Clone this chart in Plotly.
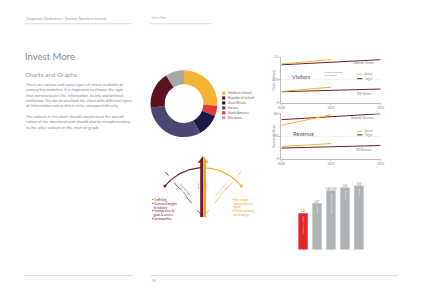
import numpy as np
import plotly.graph_objects as go

W, H = 424, 300
def px(x): return x / W
def py(y): return 1 - y / H

# ---------------- data ----------------
pie_labels = ["Northern Ireland", "North America", "Great Britain", "Europe", "Republic of Ireland", "Elsewhere"]
pie_values = [26, 5, 11, 31, 18, 9]
pie_colors = ["#F5B335", "#E2393F", "#1B1A46", "#4A4870", "#5A1220", "#A8A8A8"]
legend_order = ["Northern Ireland", "Republic of Ireland", "Great Britain", "Europe", "North America", "Elsewhere"]

years = [2008, 2010, 2012]
year_labels = ["2008", "2010", "2012"]

vis_years_target = [2008, 2012]
vis_years_actual = [2008, 2010]
vis_dom_target = [1.25, 1.42]
vis_dom_actual = [1.28, 1.42]
vis_roi_target = [0.36, 0.45]
vis_roi_actual = [0.37, 0.51]
vis_ticks = [0, 0.75, 1.5]

rev_dom_target = [432, 497]
rev_dom_actual = [370, 486]
rev_roi_target = [119, 147]
rev_roi_actual = [136, 168]
rev_ticks = [0, 250, 500]

bar_labels = ["Northern Ireland", "Wales", "Republic of Ireland", "Scotland", "England"]
bar_values = [37, 47, 60, 63, 65]
bar_top_text = ["£37", "£47", "£58-£60", "£63", "£65"]
bar_colors = ["#E2262B", "#AEB4B5", "#AEB4B5", "#AEB4B5", "#AEB4B5"]

MAROON = "#6B1F2E"
GOLD = "#F5B335"
TXT = "#8a8a8a"
FONT = "Lato"

fig = go.Figure()

# ---------------- donut ----------------
fig.add_trace(go.Pie(labels=pie_labels, values=pie_values, sort=False, direction="clockwise",
                     hole=0.58, textinfo="none", marker=dict(colors=pie_colors, line=dict(width=0)),
                     domain=dict(x=[px(150), px(218)], y=[py(137), py(69)]), showlegend=False))

# ---------------- line charts ----------------
def add_line(x, y, color, xa, ya):
    fig.add_trace(go.Scatter(x=x, y=y, mode="lines", line=dict(color=color, width=1),
                             xaxis=xa, yaxis=ya, showlegend=False, hoverinfo="skip"))

add_line(vis_years_target, vis_dom_target, MAROON, "x", "y")
add_line(vis_years_actual, vis_dom_actual, GOLD, "x", "y")
add_line(vis_years_target, vis_roi_target, MAROON, "x", "y")
add_line(vis_years_actual, vis_roi_actual, GOLD, "x", "y")
add_line(vis_years_target, rev_dom_target, MAROON, "x2", "y2")
add_line(vis_years_actual, rev_dom_actual, GOLD, "x2", "y2")
add_line(vis_years_target, rev_roi_target, MAROON, "x2", "y2")
add_line(vis_years_actual, rev_roi_actual, GOLD, "x2", "y2")

# ---------------- bars ----------------
fig.add_trace(go.Bar(x=list(range(len(bar_values))), y=bar_values, marker=dict(color=bar_colors, line=dict(width=0)),
                     text=bar_labels, textposition="inside", textangle=-90, insidetextanchor="end",
                     insidetextfont=dict(color="white", size=2.8, family=FONT),
                     xaxis="x3", yaxis="y3", showlegend=False, hoverinfo="skip"))
fig.add_trace(go.Scatter(x=list(range(len(bar_values))), y=bar_values, mode="text", text=bar_top_text,
                         textposition="top center", textfont=dict(size=2.8, color="#777", family=FONT),
                         xaxis="x3", yaxis="y3", showlegend=False, hoverinfo="skip"))

# ---------------- gauge diagram ----------------
CX, CY, R = 203.5, 218.0, 50.0
ARC_SPAN = 51.0
DASH_ANG = 40.0
DASH_LEN = 60.0
SHAFT_HALF, HEAD_HALF, HEAD_LEN, ARROW_TOP = 3.0, 5.5, 7.0, 156.0

def pol(theta_deg, r):
    t = np.radians(theta_deg)
    return CX + r * np.sin(t), -(CY - r * np.cos(t))

th = np.linspace(-ARC_SPAN, 0, 40)
ax_, ay_ = pol(th, R)
fig.add_trace(go.Scatter(x=ax_, y=ay_, mode="lines", line=dict(color=MAROON, width=1.2), xaxis="x4", yaxis="y4", showlegend=False, hoverinfo="skip"))
th = np.linspace(0, ARC_SPAN, 40)
ax_, ay_ = pol(th, R)
fig.add_trace(go.Scatter(x=ax_, y=ay_, mode="lines", line=dict(color=GOLD, width=1.2), xaxis="x4", yaxis="y4", showlegend=False, hoverinfo="skip"))
for ang, col in [(-DASH_ANG, MAROON), (DASH_ANG, GOLD)]:
    dx, dy = pol(np.array([0, ang]), np.array([0, DASH_LEN]))
    fig.add_trace(go.Scatter(x=dx, y=dy, mode="lines", line=dict(color=col, width=0.8, dash="dash"),
                             xaxis="x4", yaxis="y4", showlegend=False, hoverinfo="skip"))
for ang, col in [(-ARC_SPAN, MAROON), (ARC_SPAN, GOLD)]:
    ex, ey = pol(np.array([ang]), R)
    fig.add_trace(go.Scatter(x=ex, y=ey, mode="markers", marker=dict(color=col, size=3),
                             xaxis="x4", yaxis="y4", showlegend=False, hoverinfo="skip"))
# arrow halves
head_base = ARROW_TOP + HEAD_LEN
for sign, col in [(-1, MAROON), (1, "#F2A52A")]:
    xs = [CX, CX + sign * SHAFT_HALF, CX + sign * SHAFT_HALF, CX + sign * HEAD_HALF, CX, CX]
    ys = [-CY, -CY, -head_base, -head_base, -ARROW_TOP, -CY]
    fig.add_trace(go.Scatter(x=xs, y=ys, mode="lines", fill="toself", fillcolor=col, line=dict(width=0, color=col),
                             xaxis="x4", yaxis="y4", showlegend=False, hoverinfo="skip"))

# ---------------- layout ----------------
axis_common = dict(showline=True, linecolor="#bbbbbb", linewidth=0.6, ticks="outside", ticklen=1.5,
                   tickcolor="#bbbbbb", tickwidth=0.6, tickfont=dict(size=3, color="#888", family=FONT),
                   zeroline=False, fixedrange=True)
fig.update_layout(
    width=W, height=H, margin=dict(l=0, r=0, t=0, b=0), paper_bgcolor="white", plot_bgcolor="white",
    showlegend=False, bargap=0.33, font=dict(family=FONT),
    xaxis=dict(domain=[px(283), px(384)], range=[2008, 2012], tickvals=years, ticktext=year_labels,
               showgrid=False, anchor="y", **axis_common),
    yaxis=dict(domain=[py(102), py(56)], range=[0, 1.5], tickvals=vis_ticks, ticktext=["0", "0.75", "1.5"],
               showgrid=True, gridcolor="#f2f2f2", gridwidth=0.5, anchor="x", **axis_common),
    xaxis2=dict(domain=[px(283), px(384)], range=[2008, 2012], tickvals=years, ticktext=year_labels,
                showgrid=False, anchor="y2", **axis_common),
    yaxis2=dict(domain=[py(159), py(113)], range=[0, 500], tickvals=rev_ticks, ticktext=["0", "250", "500"],
                showgrid=True, gridcolor="#f2f2f2", gridwidth=0.5, anchor="x2", **axis_common),
    xaxis3=dict(domain=[px(298), px(369)], range=[-0.5, len(bar_values) - 0.5], visible=False, anchor="y3", fixedrange=True),
    yaxis3=dict(domain=[py(251), py(171)], range=[0, 80], visible=False, anchor="x3", fixedrange=True),
    xaxis4=dict(domain=[px(140), px(270)], range=[140, 270], visible=False, anchor="y4", fixedrange=True),
    yaxis4=dict(domain=[py(270), py(150)], range=[-270, -150], visible=False, anchor="x4", fixedrange=True),
)

shapes = []
def hline(x0, x1, y, color="#d0d0d0", w=0.8):
    shapes.append(dict(type="line", xref="paper", yref="paper", x0=px(x0), x1=px(x1), y0=py(y), y1=py(y),
                       line=dict(color=color, width=w)))
hline(22, 130.5, 22)
hline(150, 212, 22)
hline(22, 131.5, 277.3)
hline(150, 401.7, 277.3)

annots = []
def txt(x, y, s, size, color=TXT, xanchor="left", yanchor="middle", angle=0, align="left"):
    annots.append(dict(text=s, x=px(x), y=py(y), xref="paper", yref="paper", showarrow=False,
                       xanchor=xanchor, yanchor=yanchor, textangle=angle, align=align, borderpad=0,
                       font=dict(size=size, color=color, family=FONT)))

txt(22, 16.5, "Corporate Guidelines - Tourism Northern Ireland", 3.8, "#999")
txt(150.5, 16.5, "Invest More", 2.8, "#aaa")
txt(150.5, 282.3, "24", 3, "#999")
txt(21.5, 55, "Invest More", 9.5, "#8c8c8c")
txt(21.5, 73.5, "Charts and Graphs", 6.4, "#999")
txt(22, 79.8, "There are various and many types of charts available to<br>convey key statistics. It is important to choose the type<br>"
    "that communicates the information clearly and without<br>confusion. Try not to overload the chart with different types<br>"
    "of information unless this is to be compared directly.", 4.05, "#888", yanchor="top")
txt(22, 112.8, "The colours in the chart should complement the overall<br>colour of the document and should also be complementary<br>"
    "to the other colours in the chart or graph.", 4.05, "#888", yanchor="top")

# pie legend
for i, lab in enumerate(legend_order):
    yy = 92.3 + 5 * i
    col = pie_colors[pie_labels.index(lab)]
    shapes.append(dict(type="rect", xref="paper", yref="paper", x0=px(222.8), x1=px(226), y0=py(yy + 1.6), y1=py(yy - 1.6),
                       fillcolor=col, line=dict(width=0)))
    txt(228, yy, lab, 3.2, "#666")

# line chart labels
def mini_legend(y1, y2):
    for yy, col, lab in [(y1, GOLD, "Actual"), (y2, MAROON, "Target")]:
        shapes.append(dict(type="line", xref="paper", yref="paper", x0=px(360), x1=px(365.5), y0=py(yy), y1=py(yy),
                           line=dict(color=col, width=1)))
        txt(367.5, yy, lab, 2.7, "#888")

txt(276, 79, "Visitors (millions)", 2.7, "#888", xanchor="center", angle=-90)
txt(292.5, 76.5, "Visitors", 5.5, "#555")
txt(325, 73, "Already exceeded<br>2010 target", 2.4, "#888")
mini_legend(73, 77.7)
txt(367, 62.2, "Domestic Visitors", 2.7, "#777", xanchor="center")
txt(368, 93, "ROI Visitors", 2.7, "#777", xanchor="center")

txt(275, 136, "Revenue (£millions)", 2.7, "#888", xanchor="center", angle=-90)
txt(293.5, 134, "Revenue", 5.5, "#555")
mini_legend(131, 134.7)
txt(366, 117.5, "Domestic Revenue", 2.7, "#777", xanchor="center")
txt(367, 149.5, "ROI Revenue", 2.7, "#777", xanchor="center")

# gauge labels
txt(199.3, 186, "Value", 2.6, MAROON, xanchor="center", angle=90)
txt(208, 186, "Volume", 2.6, "#F2A52A", xanchor="center", angle=90)
txt(184, 192, "Price too high /<br>poor value", 2.4, MAROON, xanchor="center", angle=51, align="center")
txt(223, 192, "Price too low /<br>low yield", 2.4, "#F2A52A", xanchor="center", angle=-51, align="center")

left_bullets = [(197.6, "• Trafficking"), (201.4, "• Depressed margins<br>  for industry"),
                (208.9, "• Incompetence for<br>  goods & services"), (216.4, "• Uncompetitive")]
for yy, s in left_bullets:
    txt(150, yy, s, 2.7, "#7A2030", yanchor="top")
right_bullets = [(197.2, "• Not enough<br>  opportunities to<br>  spend"), (208.6, "• Risk to sustaining<br>  spend margin")]
for yy, s in right_bullets:
    txt(231.5, yy, s, 2.7, "#F2A52A", yanchor="top")

fig.update_layout(shapes=shapes, annotations=annots)
fig.write_html("out.html", config={"displayModeBar": False})
